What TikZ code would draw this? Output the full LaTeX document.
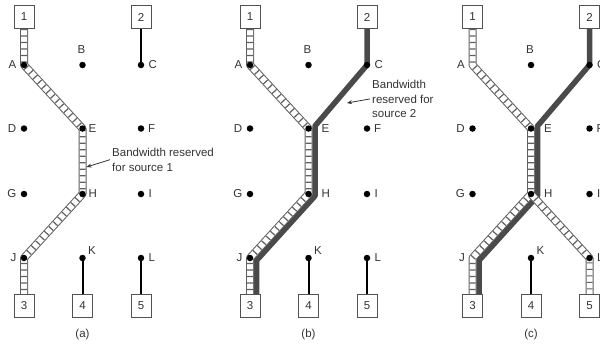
\documentclass[tikz,border=0pt]{standalone}
\usepackage{fontspec}
\setmainfont{Liberation Sans}
\usetikzlibrary{calc,arrows.meta,backgrounds}
\definecolor{ink}{HTML}{333333}
\definecolor{srccol}{HTML}{4A4A4A}
\definecolor{ladcol}{HTML}{606060}
\tikzset{
  dot/.style={circle,fill=black,inner sep=0pt,minimum size=6.5pt},
  nodot/.style={circle,inner sep=0pt,minimum size=6.5pt},
  lbl/.style={font=\fontsize{11.5}{14.5}\selectfont,text=ink,inner sep=0pt},
  host/.style={draw=ink!85,line width=0.8pt,minimum width=20pt,minimum height=23pt,inner sep=0pt,
    font=\fontsize{11.5}{14}\selectfont,text=ink,fill=white},
  thinwire/.style={line width=2pt,black},
  srctwo/.style={line width=5.5pt,srccol,line join=round},
  pointer/.style={line width=0.8pt,ink,-{Stealth[length=5pt,width=4pt]}},
}
\newcommand\ldr[1]{%
  \draw[ladcol,line width=8pt,line join=round] #1;
  \draw[white,line width=6pt,line join=round] #1;
  \draw[ladcol,line width=6pt,dash pattern=on 1.2pt off 5.3pt] #1;}
\begin{document}
\begin{tikzpicture}[x=1pt,y=-1pt]
\useasboundingbox (0,0) rectangle (600,343);
\foreach \p/\x/\eo/\aj in {a/24/6/dot,b/250/13/dot,c/472.5/13/nodot}{
  \node[\aj] (\p A) at (\x,65) {};
  \node[dot] (\p B) at (\x+58.5,65) {};
  \node[dot] (\p C) at (\x+117,65) {};
  \node[dot] (\p D) at (\x,128.5) {};
  \node[dot] (\p E) at (\x+58.5,128.5) {};
  \node[dot] (\p F) at (\x+117,128.5) {};
  \node[dot] (\p G) at (\x,194) {};
  \node[dot] (\p H) at (\x+58.5,194) {};
  \node[dot] (\p I) at (\x+117,194) {};
  \node[\aj] (\p J) at (\x,258) {};
  \node[dot] (\p K) at (\x+58.5,258) {};
  \node[dot] (\p L) at (\x+117,258) {};
  \node[lbl,anchor=east] (\p Al) at (\x-7.5,65) {A};
  \node[lbl,anchor=south] (\p Bl) at (\x+57.5,54) {B};
  \node[lbl,anchor=west] (\p Cl) at (\x+124.5,65) {C};
  \node[lbl,anchor=east] (\p Dl) at (\x-7.5,128.5) {D};
  \node[lbl,anchor=west] (\p El) at (\x+58.5+\eo,128.5) {E};
  \node[lbl,anchor=west] (\p Fl) at (\x+124,128.5) {F};
  \node[lbl,anchor=east] (\p Gl) at (\x-7.5,194) {G};
  \node[lbl,anchor=west] (\p Hl) at (\x+58.5+\eo,194) {H};
  \node[lbl,anchor=west] (\p Il) at (\x+124.5,194) {I};
  \node[lbl,anchor=east] (\p Jl) at (\x-7.5,258) {J};
  \node[lbl,anchor=south west] (\p Kl) at (\x+64,254.5) {K};
  \node[lbl,anchor=west] (\p Ll) at (\x+124.5,258) {L};
  \node[host] (\p 1) at (\x,17) {1};
  \node[host] (\p 2) at (\x+117,17) {2};
  \node[host] (\p 3) at (\x,306) {3};
  \node[host] (\p 4) at (\x+58.5,306) {4};
  \node[host] (\p 5) at (\x+117,306) {5};
  \node[lbl] (\p cap) at (\x+58.5,335) {(\p)};
}
\begin{scope}[on background layer]
  % panel (a)
  \ldr{(a1.south) -- (aA.center) -- (aE.center) -- (aH.center) -- (aJ.center) -- (a3.north)}
  \draw[thinwire] (a2.south) -- (aC.center);
  \draw[thinwire] (aK.center) -- (a4.north);
  \draw[thinwire] (aL.center) -- (a5.north);
  % panel (b)
  \draw[srctwo] (b2.south) -- (bC.center) -- ($(bE.center)+(6.5,-2.5)$) -- ($(bH.center)+(6.5,2)$)
     -- ($(bJ.center)+(6.5,2.5)$) -- ($(b3.north)+(6.5,0)$);
  \ldr{(b1.south) -- (bA.center) -- (bE.center) -- (bH.center) -- (bJ.center) -- (b3.north)}
  \draw[thinwire] (bK.center) -- (b4.north);
  \draw[thinwire] (bL.center) -- (b5.north);
  % panel (c)
  \draw[srctwo] (c2.south) -- (cC.center) -- ($(cE.center)+(6.5,-2.5)$) -- ($(cH.center)+(6.5,2)$)
     -- ($(cJ.center)+(6.5,2.5)$) -- ($(c3.north)+(6.5,0)$);
  \ldr{(c1.south) -- (cA.center) -- (cE.center) -- (cH.center) -- (cJ.center) -- (c3.north)}
  \ldr{(cH.center) -- (cL.center) -- (c5.north)}
  \draw[thinwire] (cK.center) -- (c4.north);
\end{scope}
% annotations
\node[lbl,align=left,anchor=north west] (annA) at (112,148) {Bandwidth reserved\\for source 1};
\coordinate (annAtip) at (86.5,167);
\draw[pointer] ([xshift=-2pt]annA.west) -- (annAtip);
\node[lbl,align=left,anchor=north west] (annB) at (372,80) {Bandwidth\\reserved for\\source 2};
\coordinate (annBtip) at (347,103);
\draw[pointer] ([xshift=-2pt]annB.west) -- (annBtip);
\end{tikzpicture}
\end{document}
